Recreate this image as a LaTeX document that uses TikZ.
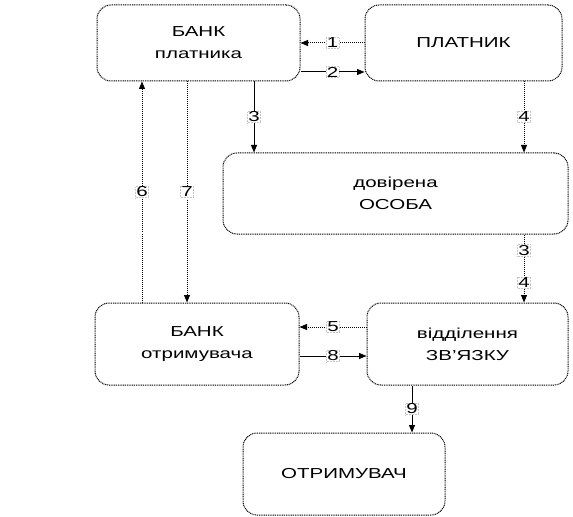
\documentclass[tikz,border=0pt]{standalone}
\usepackage{fontspec}
\setmainfont{Liberation Sans}[FakeStretch=1.42]
\usetikzlibrary{arrows.meta}
\begin{document}
\begin{tikzpicture}[x=1bp,y=-1bp,
  box/.style={draw=black, dash pattern=on 1bp off 0.8bp, line width=1bp, rounded corners=14bp,
    inner sep=0pt, align=center, font=\fontsize{14.5}{22}\selectfont},
  lab/.style={fill=white, draw=gray!45, densely dotted, line width=0.5bp, inner sep=0.6bp,
    font=\fontsize{14.5}{16}\selectfont, text=black},
  arr/.style={-{Triangle[length=7.5bp,width=6bp]}, line width=1bp},
  solidl/.style={arr, solid},
  dotl/.style={arr, dash pattern=on 1bp off 1bp}]
\useasboundingbox (0,0) rectangle (573,517);
% boxes
\node[box, minimum width=203bp, minimum height=76bp] (bp) at (198.5,43) {БАНК\\платника};
\node[box, minimum width=197bp, minimum height=76bp] (pl) at (463.5,43) {ПЛАТНИК};
\node[box, minimum width=345bp, minimum height=81bp] (dov) at (395.5,193.5) {довірена\\ОСОБА};
\node[box, minimum width=204bp, minimum height=82bp] (bo) at (197,344) {БАНК\\отримувача};
\node[box, minimum width=201bp, minimum height=82bp] (vid) at (467.5,344) {відділення\\ЗВ'ЯЗКУ};
\node[box, minimum width=202bp, minimum height=82bp] (otr) at (344,474) {ОТРИМУВАЧ};
% helper coordinates
\coordinate (r1) at (0,43);
\coordinate (r2) at (0,72);
\coordinate (r5) at (0,327);
\coordinate (r8) at (0,356);
\coordinate (c3) at (254,0);
\coordinate (c4) at (524,0);
\coordinate (c6) at (142,0);
\coordinate (c7) at (187,0);
\coordinate (c9) at (412,0);
% connectors
\draw[dotl] (pl.west |- r1) -- node[lab]{1} (bp.east |- r1);
\draw[solidl] (bp.east |- r2) -- node[lab]{2} (pl.west |- r2);
\draw[solidl] (bp.south -| c3) -- node[lab]{3} (dov.north -| c3);
\draw[dotl] (pl.south -| c4) -- node[lab]{4} (dov.north -| c4);
\draw[dotl] (dov.south -| c4) -- node[lab, pos=0.23]{3} node[lab, pos=0.71]{4} (vid.north -| c4);
\draw[dotl] (vid.west |- r5) -- node[lab]{5} (bo.east |- r5);
\draw[solidl] (bo.east |- r8) -- node[lab]{8} (vid.west |- r8);
\draw[solidl] (vid.south -| c9) -- node[lab]{9} (otr.north -| c9);
\draw[dotl] (bo.north -| c6) -- node[lab]{6} (bp.south -| c6);
\draw[dotl] (bp.south -| c7) -- node[lab]{7} (bo.north -| c7);
\end{tikzpicture}
\end{document}
